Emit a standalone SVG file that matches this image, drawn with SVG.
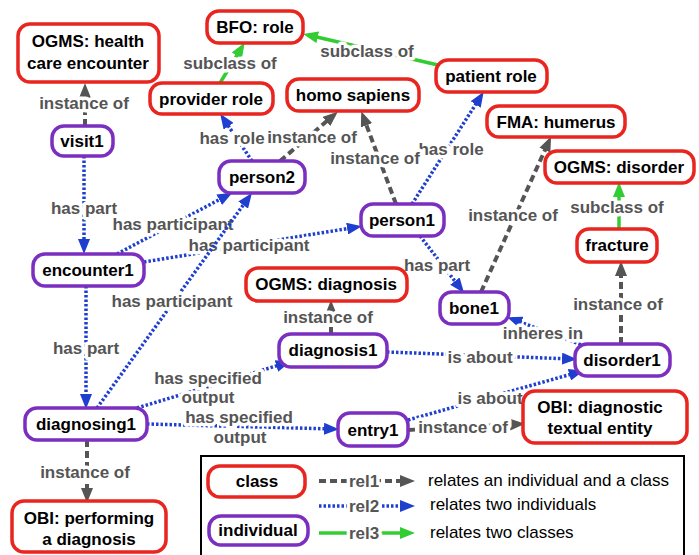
<svg xmlns="http://www.w3.org/2000/svg" width="699" height="555" viewBox="0 0 699 555">
<style>
.cls rect{fill:#fff;stroke:#e8251f;stroke-width:3.5}
.ind rect{fill:#fff;stroke:#7b2fc0;stroke-width:3.5}
.nt{font:bold 17px "Liberation Sans",Arial,sans-serif;fill:#000;text-anchor:middle}
.el{font:bold 17px "Liberation Sans",Arial,sans-serif;fill:#555;text-anchor:middle;stroke:#fff;stroke-width:7;paint-order:stroke;stroke-linejoin:round}
.lt{font:17px "Liberation Sans",Arial,sans-serif;fill:#000}
.r1{stroke:#555;stroke-width:4;stroke-dasharray:7 4;fill:none;marker-end:url(#a1)}
.r2{stroke:#1f3fcf;stroke-width:3.5;stroke-dasharray:2.5 2;fill:none;marker-end:url(#a2)}
.r3{stroke:#33cc33;stroke-width:3.5;fill:none;marker-end:url(#a3)}
</style>
<defs>
<marker id="a1" viewBox="0 0 15 12" refX="10" refY="6" markerWidth="15" markerHeight="12" markerUnits="userSpaceOnUse" orient="auto"><path d="M0,0 L15,6 L0,12 z" fill="#555"/></marker>
<marker id="a2" viewBox="0 0 15 12" refX="10" refY="6" markerWidth="15" markerHeight="12" markerUnits="userSpaceOnUse" orient="auto"><path d="M0,0 L15,6 L0,12 z" fill="#1f3fcf"/></marker>
<marker id="a3" viewBox="0 0 15 12" refX="10" refY="6" markerWidth="15" markerHeight="12" markerUnits="userSpaceOnUse" orient="auto"><path d="M0,0 L15,6 L0,12 z" fill="#33cc33"/></marker>
</defs>
<rect width="699" height="555" fill="#fff"/>
<g id="connectors">
<line class="r1" x1="85" y1="126" x2="85" y2="88"/>
<text class="el" x="84" y="109">instance of</text>
<line class="r2" x1="84" y1="156" x2="84" y2="249"/>
<text class="el" x="84" y="214">has part</text>
<line class="r3" x1="220" y1="83" x2="242" y2="47"/>
<text class="el" x="230" y="69">subclass of</text>
<line class="r3" x1="438" y1="65" x2="308" y2="35"/>
<text class="el" x="367" y="57">subclass of</text>
<line class="r2" x1="252" y1="161" x2="223" y2="118"/>
<text class="el" x="232" y="144">has role</text>
<line class="r1" x1="280" y1="161" x2="334" y2="115"/>
<text class="el" x="312" y="143">instance of</text>
<line class="r2" x1="412" y1="204" x2="481" y2="96"/>
<text class="el" x="451" y="155">has role</text>
<line class="r1" x1="396" y1="204" x2="363" y2="116"/>
<text class="el" x="375" y="164">instance of</text>
<line class="r2" x1="117" y1="254" x2="228" y2="195"/>
<text class="el" x="173" y="230">has participant</text>
<line class="r2" x1="144" y1="262" x2="357" y2="227"/>
<text class="el" x="249" y="251">has participant</text>
<line class="r2" x1="97" y1="408" x2="249" y2="197"/>
<text class="el" x="172" y="307">has participant</text>
<line class="r2" x1="86" y1="286" x2="86" y2="404"/>
<text class="el" x="86" y="354">has part</text>
<line class="r2" x1="137" y1="408" x2="286" y2="363"/>
<text class="el" x="208" y="384">has specified</text>
<text class="el" x="208" y="403">output</text>
<line class="r2" x1="147" y1="424" x2="334" y2="429"/>
<text class="el" x="239" y="423">has specified</text>
<text class="el" x="240" y="443">output</text>
<line class="r1" x1="331" y1="334" x2="331" y2="305"/>
<text class="el" x="328" y="323">instance of</text>
<line class="r2" x1="420" y1="236" x2="461" y2="289"/>
<text class="el" x="437" y="271">has part</text>
<line class="r1" x1="481" y1="292" x2="549" y2="141"/>
<text class="el" x="513" y="221">instance of</text>
<line class="r2" x1="585" y1="346" x2="512" y2="319"/>
<text class="el" x="543" y="339">inheres in</text>
<line class="r2" x1="387" y1="352" x2="572" y2="359"/>
<text class="el" x="480" y="363">is about</text>
<line class="r2" x1="408" y1="420" x2="579" y2="372"/>
<text class="el" x="490" y="404">is about</text>
<line class="r1" x1="408" y1="430" x2="520" y2="424"/>
<text class="el" x="463" y="433">instance of</text>
<line class="r1" x1="621" y1="344" x2="621" y2="266"/>
<text class="el" x="618" y="310">instance of</text>
<line class="r3" x1="619" y1="229" x2="619" y2="187"/>
<text class="el" x="617" y="213">subclass of</text>
<line class="r1" x1="87" y1="440" x2="87" y2="498"/>
<text class="el" x="85" y="478">instance of</text>
</g>
<g id="hce" class="cls"><rect x="18" y="24" width="141" height="58" rx="12"/><text class="nt" x="88" y="47">OGMS: health</text><text class="nt" x="88" y="69">care encounter</text></g>
<g id="visit1" class="ind"><rect x="52" y="126" width="61" height="30" rx="12"/><text class="nt" x="82" y="147">visit1</text></g>
<g id="bforole" class="cls"><rect x="207" y="11" width="96" height="32" rx="12"/><text class="nt" x="255" y="33">BFO: role</text></g>
<g id="providerrole" class="cls"><rect x="150" y="83" width="123" height="31" rx="12"/><text class="nt" x="211" y="105">provider role</text></g>
<g id="homosapiens" class="cls"><rect x="287" y="79" width="132" height="32" rx="12"/><text class="nt" x="353" y="101">homo sapiens</text></g>
<g id="patientrole" class="cls"><rect x="436" y="60" width="111" height="32" rx="12"/><text class="nt" x="491" y="82">patient role</text></g>
<g id="person2" class="ind"><rect x="219" y="161" width="86" height="32" rx="12"/><text class="nt" x="262" y="183">person2</text></g>
<g id="fmahumerus" class="cls"><rect x="487" y="106" width="138" height="31" rx="12"/><text class="nt" x="556" y="128">FMA: humerus</text></g>
<g id="ogmsdisorder" class="cls"><rect x="545" y="151" width="149" height="32" rx="12"/><text class="nt" x="619" y="173">OGMS: disorder</text></g>
<g id="person1" class="ind"><rect x="361" y="204" width="83" height="32" rx="12"/><text class="nt" x="402" y="226">person1</text></g>
<g id="encounter1" class="ind"><rect x="33" y="254" width="111" height="32" rx="12"/><text class="nt" x="88" y="276">encounter1</text></g>
<g id="fracture" class="cls"><rect x="577" y="229" width="80" height="33" rx="12"/><text class="nt" x="617" y="251">fracture</text></g>
<g id="ogmsdiagnosis" class="cls"><rect x="246" y="268" width="161" height="33" rx="12"/><text class="nt" x="326" y="290">OGMS: diagnosis</text></g>
<g id="bone1" class="ind"><rect x="440" y="292" width="69" height="32" rx="12"/><text class="nt" x="474" y="314">bone1</text></g>
<g id="diagnosis1" class="ind"><rect x="279" y="334" width="108" height="33" rx="12"/><text class="nt" x="333" y="356">diagnosis1</text></g>
<g id="disorder1" class="ind"><rect x="575" y="344" width="95" height="32" rx="12"/><text class="nt" x="622" y="366">disorder1</text></g>
<g id="diagnosing1" class="ind"><rect x="25" y="408" width="122" height="32" rx="12"/><text class="nt" x="86" y="430">diagnosing1</text></g>
<g id="entry1" class="ind"><rect x="338" y="413" width="70" height="33" rx="12"/><text class="nt" x="373" y="436">entry1</text></g>
<g id="obidte" class="cls"><rect x="523" y="391" width="164" height="52" rx="12"/><text class="nt" x="600" y="413">OBI: diagnostic</text><text class="nt" x="600" y="434">textual entity</text></g>
<g id="obipad" class="cls"><rect x="12" y="501" width="154" height="51" rx="12"/><text class="nt" x="89" y="524">OBI: performing</text><text class="nt" x="89" y="545">a diagnosis</text></g>
<g id="legend">
<rect x="201" y="456" width="483" height="110" fill="#fff" stroke="#000" stroke-width="2"/>
<g id="legend-class" class="cls"><rect x="208" y="466" width="97" height="31" rx="12"/><text class="nt" x="257" y="487">class</text></g>
<g id="legend-individual" class="ind"><rect x="209" y="516" width="99" height="29" rx="12"/><text class="nt" x="258" y="536">individual</text></g>
<line class="r1" x1="319" y1="481" x2="410" y2="481"/>
<text class="el" x="364" y="487">rel1</text>
<line class="r2" x1="319" y1="506" x2="410" y2="506"/>
<text class="el" x="364" y="512">rel2</text>
<line class="r3" x1="319" y1="533" x2="410" y2="533"/>
<text class="el" x="364" y="539">rel3</text>
<text class="lt" x="428" y="486">relates an individual and a class</text>
<text class="lt" x="430" y="510">relates two individuals</text>
<text class="lt" x="430" y="538">relates two classes</text>
</g>
</svg>
